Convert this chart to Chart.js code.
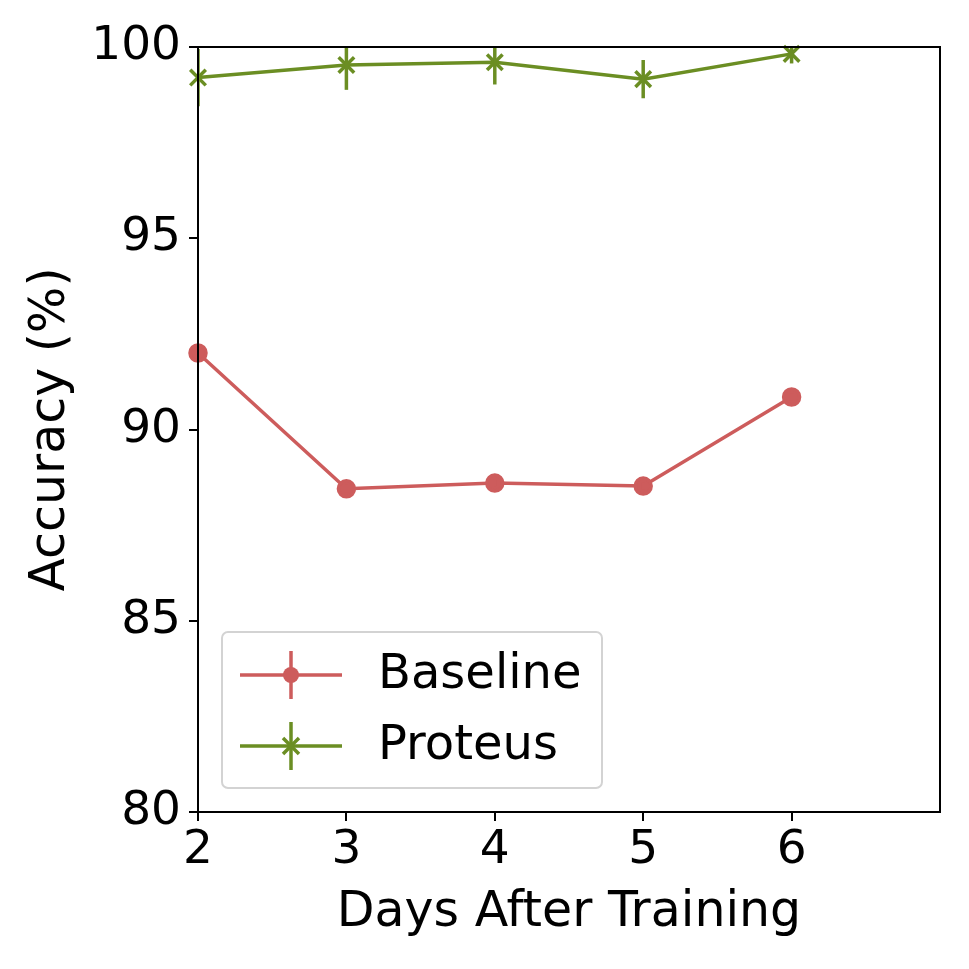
<!DOCTYPE html>
<html>
<head>
<meta charset="utf-8">
<script src="https://cdn.jsdelivr.net/npm/chart.js@4/dist/chart.umd.min.js"></script>
<style>
  html, body { margin: 0; padding: 0; background: #fff; }
  #wrap { width: 969px; height: 969px; }
</style>
</head>
<body>
<div id="wrap"><canvas id="graphique"></canvas></div>
<script>
// Données
const jours = [2, 3, 4, 5, 6];
const baseline = [92.0, 88.45, 88.6, 88.52, 90.85];
const baselineErr = [0.1, 0.1, 0.1, 0.1, 0.1];
const proteus = [99.2, 99.53, 99.6, 99.16, 99.82];
const proteusErr = [0.75, 0.65, 0.58, 0.5, 0.25];
const xTicks = [2, 3, 4, 5, 6];
const yTicks = [80, 85, 90, 95, 100];

const rouge = "#CD5C5C";
const vert = "#6B8E23";
const police = "'DejaVu Sans', sans-serif";

// Barres d'erreur verticales
const barresErreur = {
    id: "barresErreur",
    afterDatasetsDraw(chart) {
        const ctx = chart.ctx;
        const y = chart.scales.y;
        const zone = chart.chartArea;
        ctx.save();
        ctx.beginPath();
        ctx.rect(zone.left, zone.top, zone.right - zone.left, zone.bottom - zone.top);
        ctx.clip();
        chart.data.datasets.forEach((ds, i) => {
            const meta = chart.getDatasetMeta(i);
            ctx.strokeStyle = ds.borderColor;
            ctx.lineWidth = 3.5;
            meta.data.forEach((pt, j) => {
                const v = ds.data[j].y;
                const e = ds.erreurs[j];
                ctx.beginPath();
                ctx.moveTo(pt.x, y.getPixelForValue(v - e));
                ctx.lineTo(pt.x, y.getPixelForValue(v + e));
                ctx.stroke();
            });
        });
        ctx.restore();
    }
};

// Cadre et légende dans la zone du graphique
const cadreLegende = {
    id: "cadreLegende",
    afterDraw(chart) {
        const ctx = chart.ctx;
        const z = chart.chartArea;
        ctx.save();
        ctx.strokeStyle = "#000";
        ctx.lineWidth = 2;
        ctx.strokeRect(z.left, z.top, z.right - z.left, z.bottom - z.top);

        // boîte de légende
        const bx = z.left + 24, by = z.bottom - 180, bw = 380, bh = 156;
        ctx.fillStyle = "rgba(255,255,255,0.8)";
        ctx.strokeStyle = "#d3d3d3";
        ctx.lineWidth = 2;
        ctx.beginPath();
        ctx.roundRect(bx, by, bw, bh, 6);
        ctx.fill();
        ctx.stroke();

        chart.data.datasets.forEach((ds, i) => {
            const cy = by + 43 + i * 71;
            const x0 = bx + 18, x1 = bx + 120, xm = (x0 + x1) / 2;
            ctx.strokeStyle = ds.borderColor;
            ctx.fillStyle = ds.borderColor;
            ctx.lineWidth = 3.5;
            ctx.beginPath();
            ctx.moveTo(x0, cy); ctx.lineTo(x1, cy);
            ctx.moveTo(xm, cy - 24); ctx.lineTo(xm, cy + 24);
            ctx.stroke();
            if (ds.pointStyle === "circle") {
                ctx.beginPath();
                ctx.arc(xm, cy, 8, 0, Math.PI * 2);
                ctx.fill();
            } else {
                ctx.beginPath();
                ctx.moveTo(xm - 8, cy - 8); ctx.lineTo(xm + 8, cy + 8);
                ctx.moveTo(xm - 8, cy + 8); ctx.lineTo(xm + 8, cy - 8);
                ctx.stroke();
            }
            ctx.fillStyle = "#000";
            ctx.font = "48px " + police;
            ctx.textBaseline = "middle";
            ctx.fillText(ds.label, bx + 156, cy + 1);
        });
        ctx.restore();
    }
};

const data = {
    datasets: [
        {
            label: "Baseline",
            data: jours.map((j, i) => ({ x: j, y: baseline[i] })),
            erreurs: baselineErr,
            borderColor: rouge,
            backgroundColor: rouge,
            borderWidth: 3.5,
            pointStyle: "circle",
            pointRadius: 8,
            pointHoverRadius: 8,
            clip: false
        },
        {
            label: "Proteus",
            data: jours.map((j, i) => ({ x: j, y: proteus[i] })),
            erreurs: proteusErr,
            borderColor: vert,
            backgroundColor: vert,
            borderWidth: 3.5,
            pointStyle: "crossRot",
            pointRadius: 11,
            pointHoverRadius: 11,
            pointBorderWidth: 3.5,
            clip: false
        }
    ]
};

const config = {
    type: "line",
    data: data,
    plugins: [barresErreur, cadreLegende],
    options: {
        responsive: false,
        animation: false,
        layout: { padding: { top: 47, right: 29, left: 0, bottom: 0 } },
        plugins: { legend: { display: false }, tooltip: { enabled: false } },
        scales: {
            x: {
                type: "linear",
                min: 2,
                max: 7,
                afterBuildTicks: (s) => { s.ticks = xTicks.map(v => ({ value: v })); },
                afterFit: (s) => { s.height = 969 - 812; },
                border: { display: false },
                grid: { drawOnChartArea: false, drawTicks: true, tickLength: 9, color: "#000", lineWidth: 2 },
                ticks: { color: "#000", font: { family: police, size: 47 }, padding: 2, maxRotation: 0 },
                title: { display: true, text: "Days After Training", color: "#000", font: { family: police, size: 49 }, padding: { top: 0, bottom: 26 } }
            },
            y: {
                min: 80,
                max: 100,
                afterBuildTicks: (s) => { s.ticks = yTicks.map(v => ({ value: v })); },
                afterFit: (s) => { s.width = 198; },
                border: { display: false },
                grid: { drawOnChartArea: false, drawTicks: true, tickLength: 9, color: "#000", lineWidth: 2 },
                ticks: { color: "#000", font: { family: police, size: 47 }, padding: 8 },
                title: { display: true, text: "Accuracy (%)", color: "#000", font: { family: police, size: 49 }, padding: { top: 22, bottom: 0 } }
            }
        }
    }
};

const canvas = document.querySelector("#graphique");
canvas.width = 969;
canvas.height = 969;
new Chart(canvas, config);
</script>
</body>
</html>
